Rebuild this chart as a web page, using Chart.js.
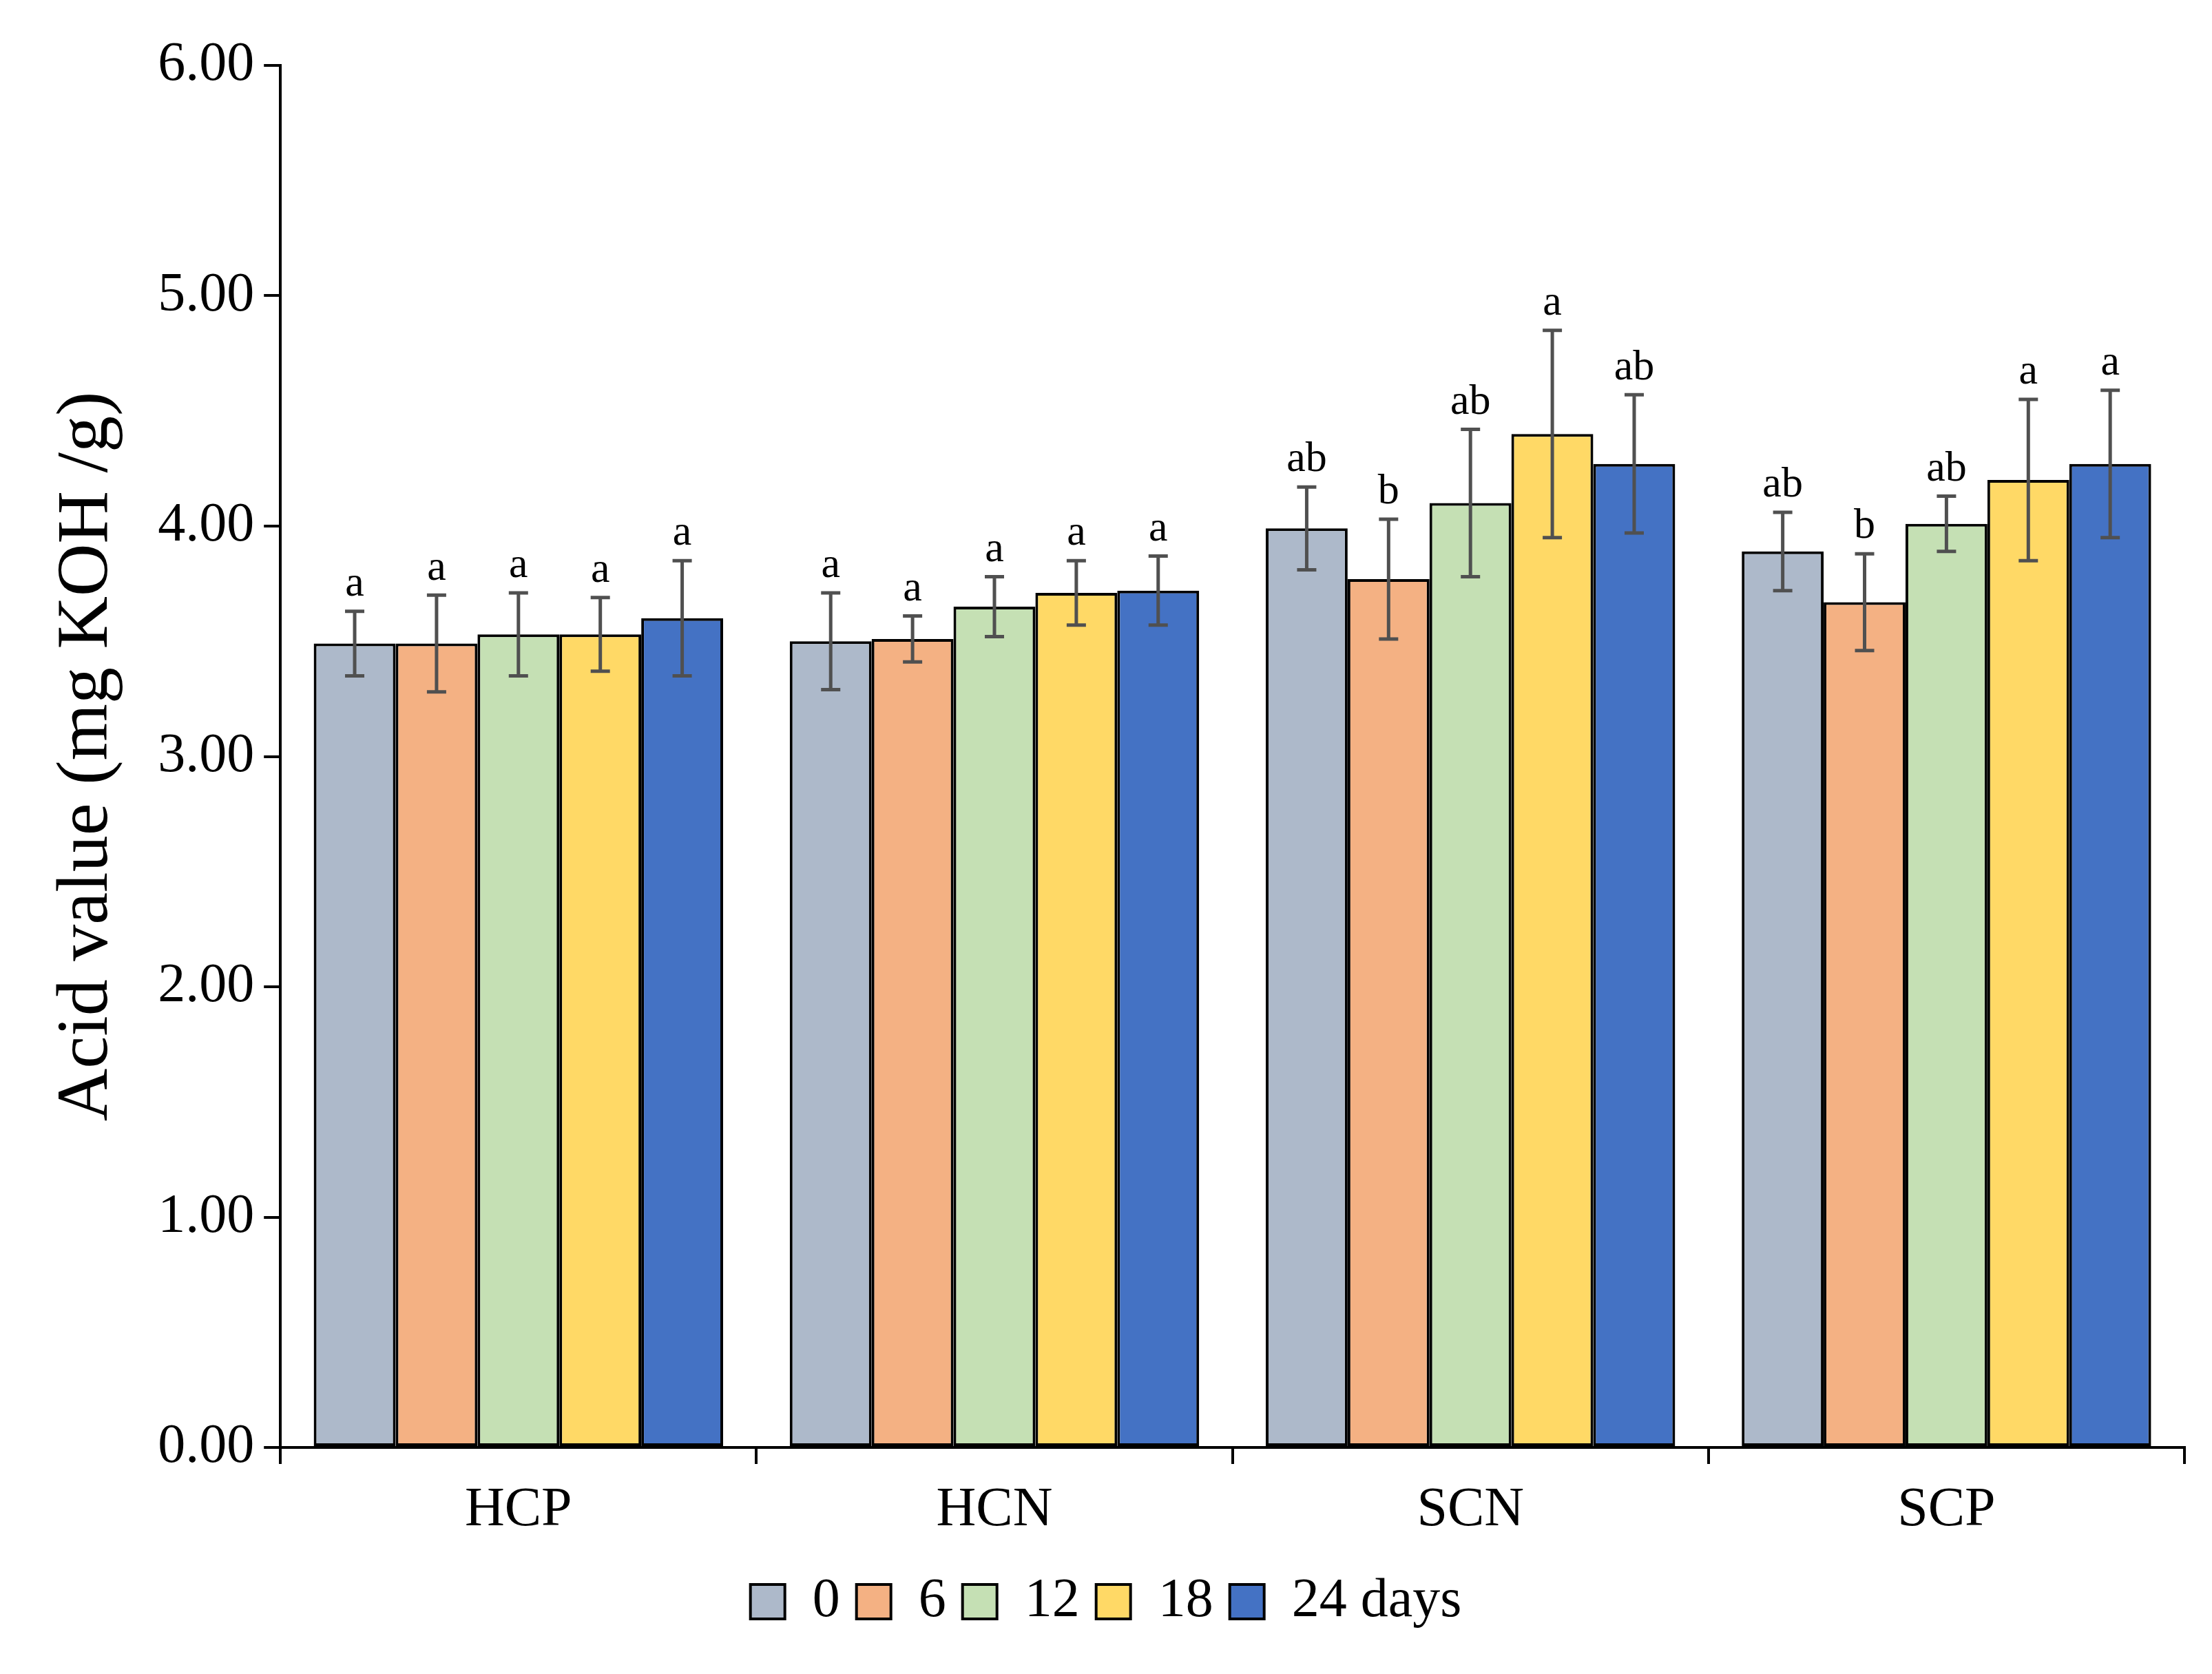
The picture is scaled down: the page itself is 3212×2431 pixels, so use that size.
<!DOCTYPE html>
<html><head><meta charset="utf-8">
<script src="https://cdn.jsdelivr.net/npm/chart.js@4"></script>
<style>html,body{margin:0;padding:0;background:#fff}#w{width:3212px;height:2431px}</style>
</head><body><div id="w"><canvas id="c"></canvas></div>
<script>
const categories = ["HCP","HCN","SCN","SCP"];
const seriesNames = ["0","6","12","18","24 days"];
const colors = ["#ADB9CA","#F4B183","#C5E0B4","#FFD966","#4472C4"];
const v0 = [3.49,3.50,3.99,3.89];
const v6 = [3.49,3.51,3.77,3.67];
const v12 = [3.53,3.65,4.10,4.01];
const v18 = [3.53,3.71,4.40,4.20];
const v24 = [3.60,3.72,4.27,4.27];
const e0 = [0.14,0.21,0.18,0.17];
const e6 = [0.21,0.10,0.26,0.21];
const e12 = [0.18,0.13,0.32,0.12];
const e18 = [0.16,0.14,0.45,0.35];
const e24 = [0.25,0.15,0.30,0.32];
const l0 = ["a","a","ab","ab"];
const l6 = ["a","a","b","b"];
const l12 = ["a","a","ab","ab"];
const l18 = ["a","a","a","a"];
const l24 = ["a","a","ab","a"];
const values=[v0,v6,v12,v18,v24], errs=[e0,e6,e12,e18,e24], letters=[l0,l6,l12,l18,l24];
const F="'Liberation Serif','Times New Roman',serif";
const errPlugin={id:'err',afterDatasetsDraw(ch){
  const ctx=ch.ctx,y=ch.scales.y;
  ch.data.datasets.forEach((ds,i)=>{
    ch.getDatasetMeta(i).data.forEach((b,j)=>{
      const v=values[i][j],e=errs[i][j];
      const yt=y.getPixelForValue(v+e),yb=y.getPixelForValue(v-e);
      ctx.save();ctx.strokeStyle='#505050';ctx.lineWidth=5;
      ctx.beginPath();ctx.moveTo(b.x,yt);ctx.lineTo(b.x,yb);
      ctx.moveTo(b.x-14,yt);ctx.lineTo(b.x+14,yt);
      ctx.moveTo(b.x-14,yb);ctx.lineTo(b.x+14,yb);ctx.stroke();
      ctx.fillStyle='#000';ctx.font='62px '+F;ctx.textAlign='center';ctx.textBaseline='bottom';
      ctx.fillText(letters[i][j],b.x,yt-8);ctx.restore();
    });
  });
}};
new Chart(document.getElementById('c'),{type:'bar',
 data:{labels:categories,datasets:values.map((v,i)=>({label:seriesNames[i],data:v,backgroundColor:colors[i],borderColor:'#000',borderWidth:4,borderSkipped:false}))},
 options:{responsive:true,maintainAspectRatio:false,animation:false,
  layout:{padding:{left:40,right:40,top:95,bottom:55}},
  datasets:{bar:{categoryPercentage:0.86,barPercentage:1}},
  plugins:{tooltip:{enabled:false},
   legend:{position:'bottom',labels:{font:{size:80,family:F},color:'#000',boxWidth:50,boxHeight:50,padding:24}}},
  scales:{
   x:{grid:{drawOnChartArea:false,offset:true,color:'#000',lineWidth:4,tickLength:24,tickColor:'#000'},border:{color:'#000',width:4},
      ticks:{font:{size:80,family:F},color:'#000',padding:20}},
   y:{min:0,max:6,grid:{drawOnChartArea:false,color:'#000',lineWidth:4,tickLength:24},border:{color:'#000',width:4},
      ticks:{stepSize:1,font:{size:80,family:F},color:'#000',padding:14,callback:v=>v.toFixed(2)},
      title:{display:true,text:'Acid value (mg KOH /g)',font:{size:106,family:F},color:'#000',padding:24}}
  }}, plugins:[errPlugin]});
</script></body></html>
